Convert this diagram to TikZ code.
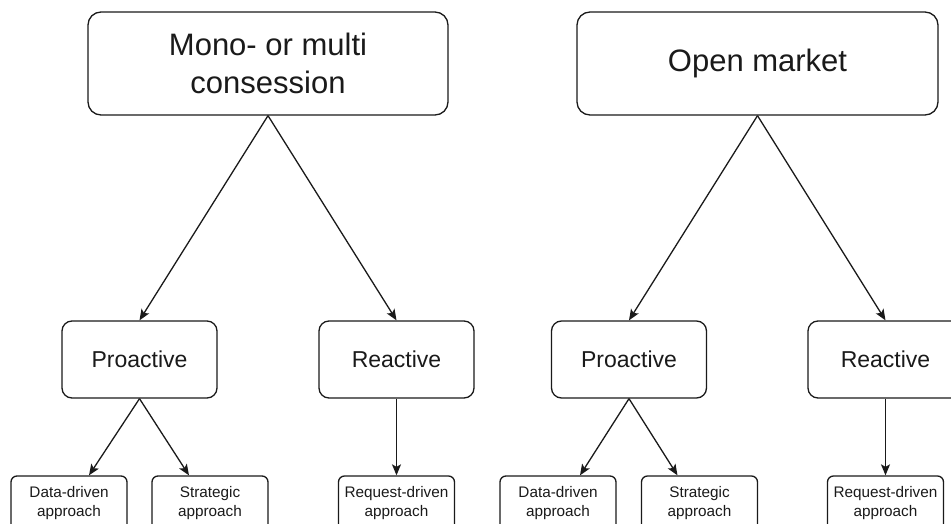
\documentclass[tikz,border=0pt]{standalone}
\usepackage{fontspec}
\setmainfont{Liberation Sans}
\usetikzlibrary{arrows.meta}
\definecolor{ink}{HTML}{1A1A1A}
\begin{document}
\begin{tikzpicture}[x=1pt,y=-1pt,
  box/.style={draw=ink,line width=1.3pt,fill=white,inner sep=0pt,align=center,text=ink},
  topbox/.style={box,rounded corners=13pt,minimum width=360pt,minimum height=103pt,font=\fontsize{31}{38}\selectfont},
  midbox/.style={box,rounded corners=10pt,minimum width=155pt,minimum height=77pt,font=\fontsize{23}{28}\selectfont},
  lowbox/.style={box,rounded corners=6pt,minimum width=116pt,minimum height=54pt,font=\fontsize{15.3}{18.5}\selectfont},
  link/.style={draw=ink,line width=1.3pt,-{Stealth[length=11pt,width=9pt,inset=2.5pt]}}]
\useasboundingbox (0,0) rectangle (951,524);
\clip (0,0) rectangle (951,524);
% top
\node[topbox] (TL) at (268,63.5) {Mono- or multi\\consession};
\node[topbox,minimum width=361pt] (TR) at (757.5,63.5) {Open market};
% middle
\node[midbox] (PL) at (139.5,359.5) {Proactive};
\node[midbox] (RL) at (396.5,359.5) {Reactive};
\node[midbox] (PR) at (629,359.5) {Proactive};
\node[midbox] (RR) at (885.5,359.5) {Reactive};
% bottom
\node[lowbox] (DL) at (69,503) {Data-driven\\approach};
\node[lowbox] (SL) at (210,503) {Strategic\\approach};
\node[lowbox] (QL) at (396.5,503) {Request-driven\\approach};
\node[lowbox] (DR) at (558,503) {Data-driven\\approach};
\node[lowbox] (SR) at (699.5,503) {Strategic\\approach};
\node[lowbox] (QR) at (885.5,503) {Request-driven\\approach};
% connectors
\draw[link] (TL.south) -- (PL.north);
\draw[link] (TL.south) -- (RL.north);
\draw[link] (TR.south) -- (PR.north);
\draw[link] (TR.south) -- (RR.north);
\draw[link] (PL.south) -- ([xshift=20pt]DL.north);
\draw[link] (PL.south) -- ([xshift=-21pt]SL.north);
\draw[link] (RL.south) -- (QL.north);
\draw[link] (PR.south) -- ([xshift=22pt]DR.north);
\draw[link] (PR.south) -- ([xshift=-22pt]SR.north);
\draw[link] (RR.south) -- (QR.north);
\end{tikzpicture}
\end{document}
